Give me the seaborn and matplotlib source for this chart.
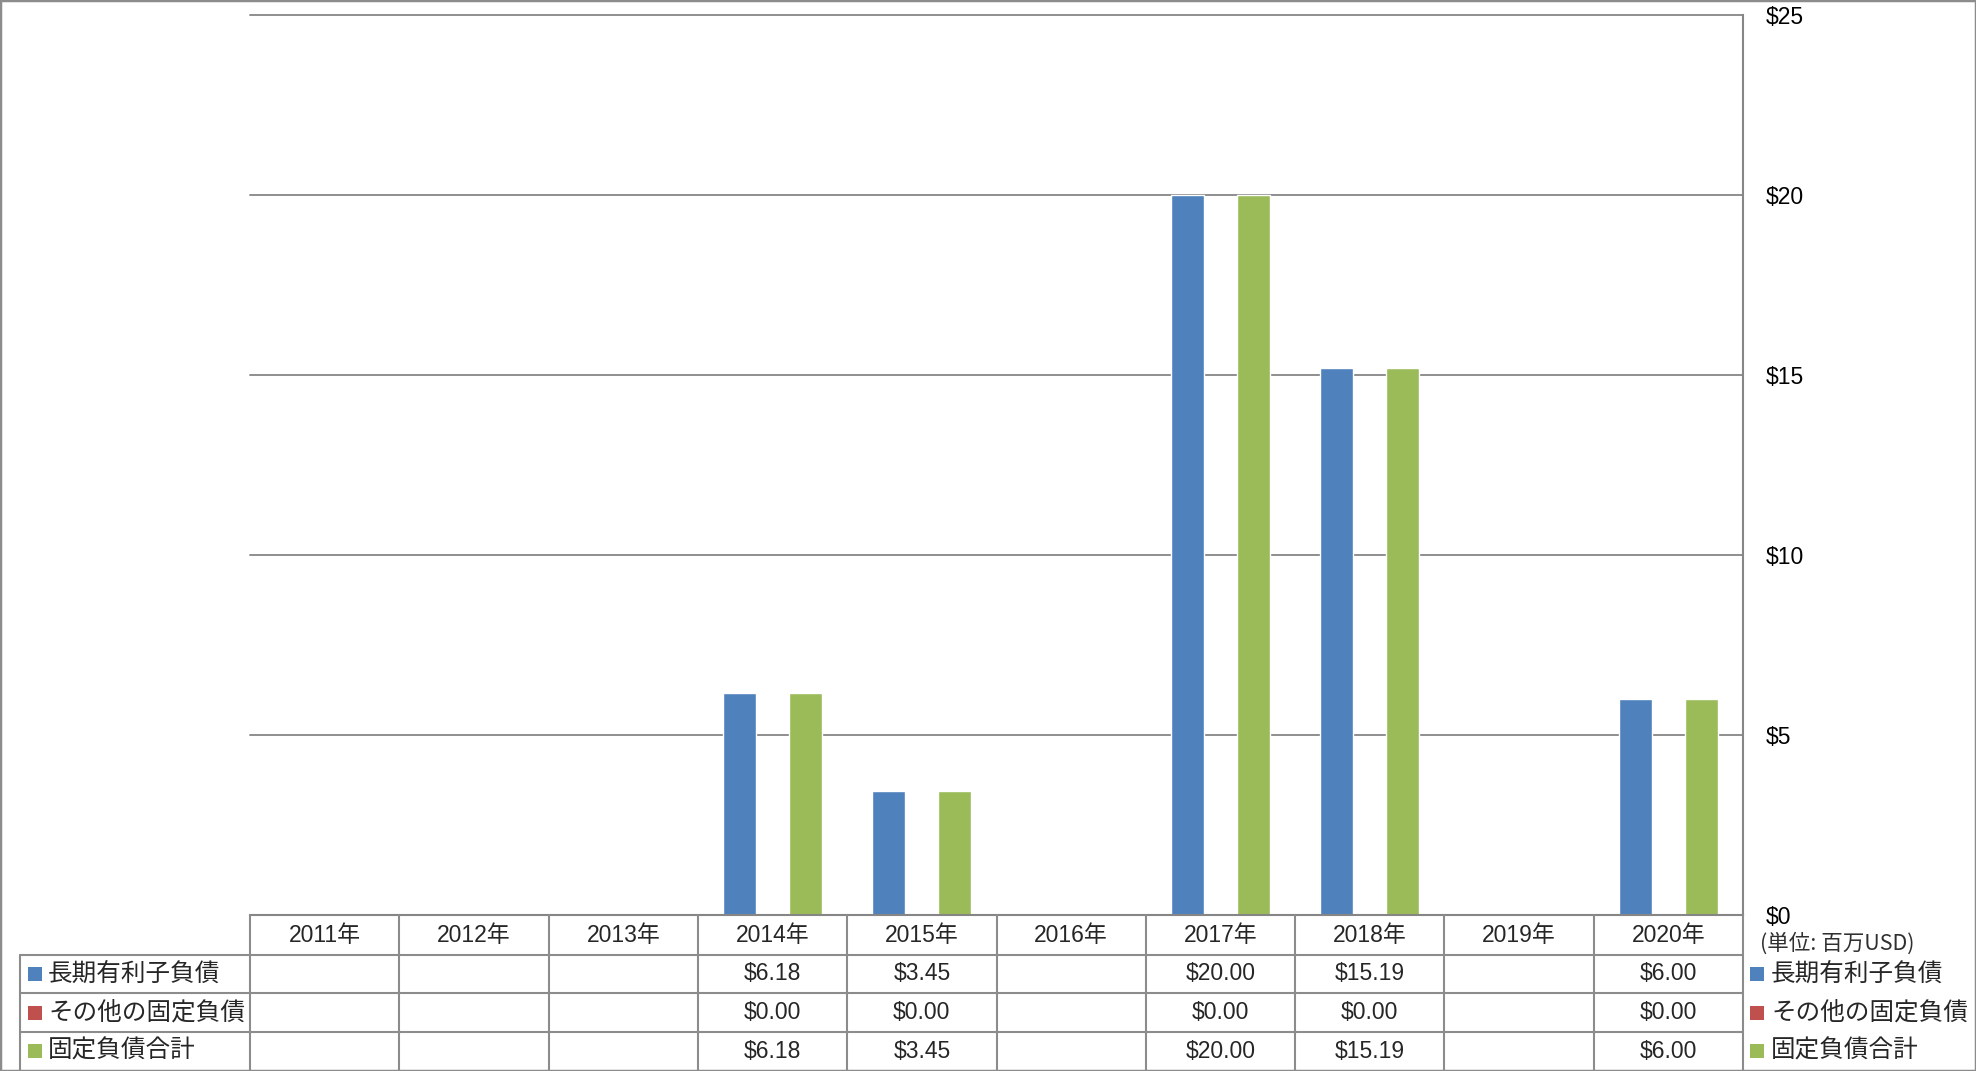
import numpy as np
import pandas as pd
import matplotlib
matplotlib.use("Agg")
import matplotlib.pyplot as plt
from matplotlib.patches import Rectangle
from matplotlib.lines import Line2D
import seaborn as sns

# ---------------- data ----------------
years = ['2011年', '2012年', '2013年', '2014年', '2015年', '2016年', '2017年', '2018年', '2019年', '2020年']
series_names = ['長期有利子負債', 'その他の固定負債', '固定負債合計']
long_term_debt = [np.nan, np.nan, np.nan, 6.18, 3.45, np.nan, 20.00, 15.19, np.nan, 6.00]
other_fixed = [np.nan, np.nan, np.nan, 0.00, 0.00, np.nan, 0.00, 0.00, np.nan, 0.00]
total_fixed = [np.nan, np.nan, np.nan, 6.18, 3.45, np.nan, 20.00, 15.19, np.nan, 6.00]
colors = ['#4F81BD', '#C0504D', '#9BBB59']
y_ticks = [0, 5, 10, 15, 20, 25]
unit_label = '(単位: 百万USD)'

series_values = [long_term_debt, other_fixed, total_fixed]
df = pd.DataFrame({
    'year': years * 3,
    'series': sum([[s] * len(years) for s in series_names], []),
    'value': long_term_debt + other_fixed + total_fixed,
})

# ---------------- style ----------------
sns.set_theme(style='white')
plt.rcParams['font.family'] = ['Liberation Sans', 'Noto Sans CJK JP', 'DejaVu Sans']

W, H = 1976, 1071
fig = plt.figure(figsize=(W / 100, H / 100), dpi=100)
fig.patch.set_facecolor('white')

L, R, T, B = 250, 1743, 15, 915   # plot area in pixels (top-left origin)
ax = fig.add_axes([L / W, 1 - B / H, (R - L) / W, (B - T) / H])

sns.barplot(data=df.dropna(), x='year', y='value', hue='series', order=years,
            hue_order=series_names, palette=colors, width=0.663, gap=0,
            errorbar=None, ax=ax, legend=False, saturation=1)

ax.set_xlim(-0.5, len(years) - 0.5)
ax.set_ylim(0, 25)
ax.set_xlabel('')
ax.set_ylabel('')
ax.set_xticks([])
ax.yaxis.tick_right()
ax.set_yticks(y_ticks)
ax.set_yticklabels([f'${t}' for t in y_ticks], fontsize=16.5, color='#000000')
for lab in ax.get_yticklabels():
    lab.set_horizontalalignment('left')
ax.tick_params(axis='y', length=0, pad=16)
ax.grid(axis='y', color='#868686', linewidth=1.3)
ax.set_axisbelow(True)
for gl in ax.get_ygridlines():
    gl.set_clip_on(False)
for side in ['left', 'top']:
    ax.spines[side].set_visible(False)
ax.spines['right'].set_color('#868686')
ax.spines['right'].set_linewidth(1.5)
ax.spines['bottom'].set_color('#868686')
ax.spines['bottom'].set_linewidth(1.5)

# ---------------- data table ----------------
def fx(px):
    return px / W

def fy(py):
    return 1 - py / H

line_col = '#8c8c8c'
lw = 1.5
row_edges = [915, 955, 993, 1032, 1070]
table_left = 20

fig.canvas.draw()
col_edges = [ax.transData.transform((i - 0.5, 0))[0] for i in range(len(years) + 1)]
col_centers = [ax.transData.transform((i, 0))[0] for i in range(len(years))]

for y in row_edges[1:4]:
    fig.add_artist(Line2D([fx(table_left), fx(R)], [fy(y), fy(y)], color=line_col, lw=lw))
for x in col_edges:
    fig.add_artist(Line2D([fx(x), fx(x)], [fy(row_edges[0]), fy(row_edges[-1])], color=line_col, lw=lw))
fig.add_artist(Line2D([fx(table_left), fx(table_left)], [fy(row_edges[1]), fy(row_edges[-1])], color=line_col, lw=lw))

for xc, yr in zip(col_centers, years):
    fig.text(fx(xc), fy((row_edges[0] + row_edges[1]) / 2 + 1), yr, ha='center', va='center', fontsize=16.5)

for r, (name, vals, c) in enumerate(zip(series_names, series_values, colors)):
    yc = (row_edges[r + 1] + row_edges[r + 2]) / 2
    fig.add_artist(Rectangle((fx(28), fy(yc + 7)), 14 / W, 14 / H, color=c, lw=0))
    fig.text(fx(48), fy(yc), name, ha='left', va='center', fontsize=17.7,
             family=['Noto Sans CJK JP'])
    for xc, v in zip(col_centers, vals):
        if not np.isnan(v):
            fig.text(fx(xc), fy(yc), f'${v:.2f}', ha='center', va='center', fontsize=16.5)
    fig.add_artist(Rectangle((fx(1750), fy(yc + 7)), 14 / W, 14 / H, color=c, lw=0))
    fig.text(fx(1771), fy(yc), name, ha='left', va='center', fontsize=17.7,
             family=['Noto Sans CJK JP'])

fig.text(fx(1760), fy(944), unit_label, ha='left', va='center', fontsize=15.5,
         color='#303030', family=['Noto Sans CJK JP'])

fig.add_artist(Rectangle((0, 0), 1, 1, transform=fig.transFigure, fill=False,
                         edgecolor='#8c8c8c', lw=2.5))

fig.savefig('out.png', dpi=100)
